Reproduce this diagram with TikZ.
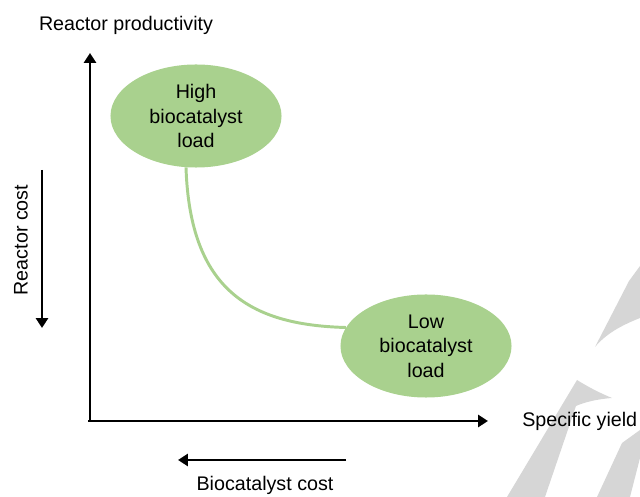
\documentclass[tikz,border=0pt]{standalone}
\usepackage{fontspec}
\setmainfont{Liberation Sans}
\usetikzlibrary{arrows.meta,shapes.geometric}

\definecolor{loadgreen}{HTML}{A9D18E}
\definecolor{markgrey}{HTML}{D6D6D6}

\begin{document}
\begin{tikzpicture}[x=0.025cm,y=-0.025cm,
    font=\fontsize{14}{17.4}\selectfont,
    axis/.style={line width=2.1pt,-{Triangle[length=7pt,width=8.5pt]}},
    load/.style={ellipse,fill=loadgreen,minimum width=4.275cm,minimum height=2.575cm,inner sep=0pt,align=center},
    link/.style={draw=loadgreen,line width=2.1pt}]
  \useasboundingbox (0,0) rectangle (640,497);

  % grey marks in the lower right corner
  \fill[markgrey] (629,281) -- (640,266) -- (640,318) .. controls (620,326) and (606,334) .. (595,347) -- cycle;
  \fill[markgrey] (577,380) .. controls (590,388) and (600,393) .. (612,398) .. controls (598,399) and (585,402) .. (576,406) -- (545,497) -- (507,497) -- cycle;
  \fill[markgrey] (622,443) -- (640,430) -- (640,458) -- (630,497) -- (597,497) -- cycle;

  % axes
  \coordinate (origin) at (88,421);
  \coordinate (ytip) at (90,53);
  \coordinate (xtip) at (488,421);
  \draw[axis] (90,422) -- (ytip);
  \draw[axis] (origin) -- (xtip);
  \node at (126,25) (ylabel) {Reactor productivity};
  \node[anchor=west,inner sep=0pt] at (522,421) (xlabel) {Specific yield};

  % cost directions
  \coordinate (rctop) at (42,170);
  \coordinate (rcbot) at (42,328);
  \draw[axis] (rctop) -- (rcbot);
  \node[rotate=90] at (21,240) (rclabel) {Reactor cost};
  \coordinate (bcright) at (346,460);
  \coordinate (bcleft) at (178,460);
  \draw[axis] (bcright) -- (bcleft);
  \node at (265,485) (bclabel) {Biocatalyst cost};

  % the two operating points
  \node[load] at (196,116) (high) {High\\biocatalyst\\load};
  \node[load] at (426,346) (low) {Low\\biocatalyst\\load};
  \draw[link] (high.259) .. controls (190,290) and (250,325) .. (low.167);
\end{tikzpicture}
\end{document}
